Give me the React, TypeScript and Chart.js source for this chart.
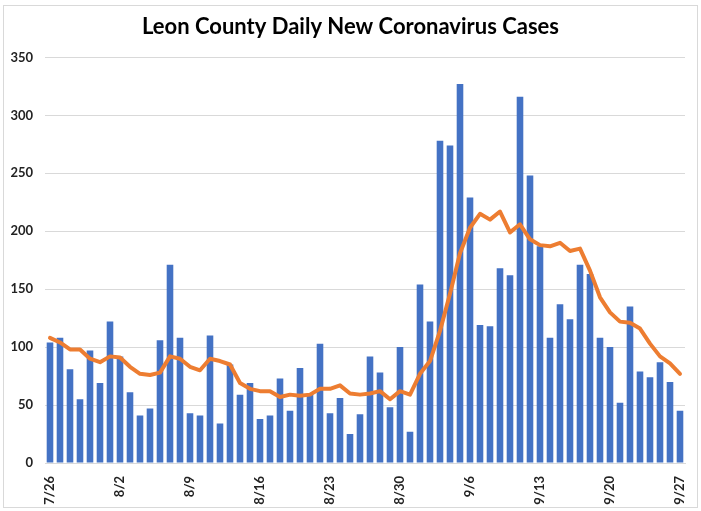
import React, { useEffect, useRef } from "react";
import { Chart, registerables } from "chart.js";

Chart.register(...registerables);

const dates: string[] = [
  "7/26", "7/27", "7/28", "7/29", "7/30", "7/31",
  "8/1", "8/2", "8/3", "8/4", "8/5", "8/6", "8/7", "8/8", "8/9", "8/10",
  "8/11", "8/12", "8/13", "8/14", "8/15", "8/16", "8/17", "8/18", "8/19", "8/20",
  "8/21", "8/22", "8/23", "8/24", "8/25", "8/26", "8/27", "8/28", "8/29", "8/30", "8/31",
  "9/1", "9/2", "9/3", "9/4", "9/5", "9/6", "9/7", "9/8", "9/9", "9/10",
  "9/11", "9/12", "9/13", "9/14", "9/15", "9/16", "9/17", "9/18", "9/19", "9/20",
  "9/21", "9/22", "9/23", "9/24", "9/25", "9/26", "9/27",
];

const dailyCases: number[] = [
  104, 108, 81, 55, 97, 69,
  122, 92, 61, 41, 47, 106, 171, 108, 43, 41,
  110, 34, 85, 59, 69, 38, 41, 73, 45, 82,
  60, 103, 43, 56, 25, 42, 92, 78, 48, 100, 27,
  154, 122, 278, 274, 327, 229, 119, 118, 168, 162,
  316, 248, 187, 108, 137, 124, 171, 163, 108, 100,
  52, 135, 79, 74, 87, 70, 45,
];

const movingAverage: number[] = [
  108, 104, 98, 98, 90, 87,
  92, 91, 83, 77, 76, 78, 92, 90, 83, 80,
  90, 88, 85, 69, 64, 62, 62, 57, 59, 58,
  59, 64, 64, 67, 60, 59, 60, 62, 55, 62, 59,
  77, 88, 114, 146, 181, 203, 215, 210, 217, 199,
  206, 193, 188, 187, 190, 183, 185, 166, 143, 130,
  122, 121, 116, 103, 92, 86, 77,
];

const yTicks = { min: 0, max: 350, step: 50 };
const titleText = "Leon County Daily New Coronavirus Cases";

export default function App() {
  const canvasRef = useRef<HTMLCanvasElement | null>(null);

  useEffect(() => {
    const canvas = canvasRef.current;
    if (!canvas) return;
    const chart = new Chart(canvas, {
      type: "bar",
      data: {
        labels: dates,
        datasets: [
          {
            type: "line",
            label: "7-day average",
            data: movingAverage,
            borderColor: "#ED7D31",
            backgroundColor: "#ED7D31",
            borderWidth: 4,
            pointRadius: 0,
            tension: 0,
            borderJoinStyle: "round",
            borderCapStyle: "round",
            order: 0,
          } as any,
          {
            type: "bar",
            label: "Daily new cases",
            data: dailyCases,
            backgroundColor: "#4472C4",
            categoryPercentage: 1,
            barPercentage: 0.66,
            order: 1,
          },
        ],
      },
      options: {
        responsive: false,
        animation: false,
        layout: { padding: { left: 0, right: 0, top: 0, bottom: 0 } },
        plugins: {
          legend: { display: false },
          tooltip: { enabled: false },
          title: {
            display: true,
            text: titleText,
            color: "#000",
            font: { family: "Lato", size: 22, weight: "bold" },
            padding: { top: 14, bottom: 17 },
          },
        },
        scales: {
          x: {
            grid: { display: false },
            border: { display: true, color: "#d9d9d9" },
            ticks: {
              autoSkip: false,
              minRotation: 90,
              maxRotation: 90,
              padding: 5,
              color: "#222",
              font: { family: "Lato", size: 13, weight: "bold" },
              callback: (_v: any, i: number) => (i % 7 === 0 ? dates[i] : ""),
            },
            afterFit: (scale: any) => {
              scale.height = 48;
            },
          },
          y: {
            min: yTicks.min,
            max: yTicks.max,
            grid: { color: "#d9d9d9", drawTicks: false },
            border: { display: false },
            ticks: {
              stepSize: yTicks.step,
              padding: 12,
              color: "#222",
              font: { family: "Lato", size: 13, weight: "bold" },
            },
            afterFit: (scale: any) => {
              scale.width = 45;
            },
          },
          yRightSpace: {
            position: "right",
            display: true,
            min: yTicks.min,
            max: yTicks.max,
            grid: { display: false, drawTicks: false },
            border: { display: false },
            ticks: { display: false },
            afterFit: (scale: any) => {
              scale.width = 16;
            },
          },
        },
      },
    });
    return () => chart.destroy();
  }, []);

  return (
    <div style={{ position: "fixed", left: 0, top: 0, width: 701, height: 511, background: "#fff" }}>
      <div
        style={{
          position: "absolute",
          left: 3,
          top: 5,
          width: 693,
          height: 501,
          border: "1px solid #d9d9d9",
        }}
      />
      <canvas ref={canvasRef} width={701} height={511} style={{ position: "absolute", left: 0, top: 0 }} />
    </div>
  );
}
